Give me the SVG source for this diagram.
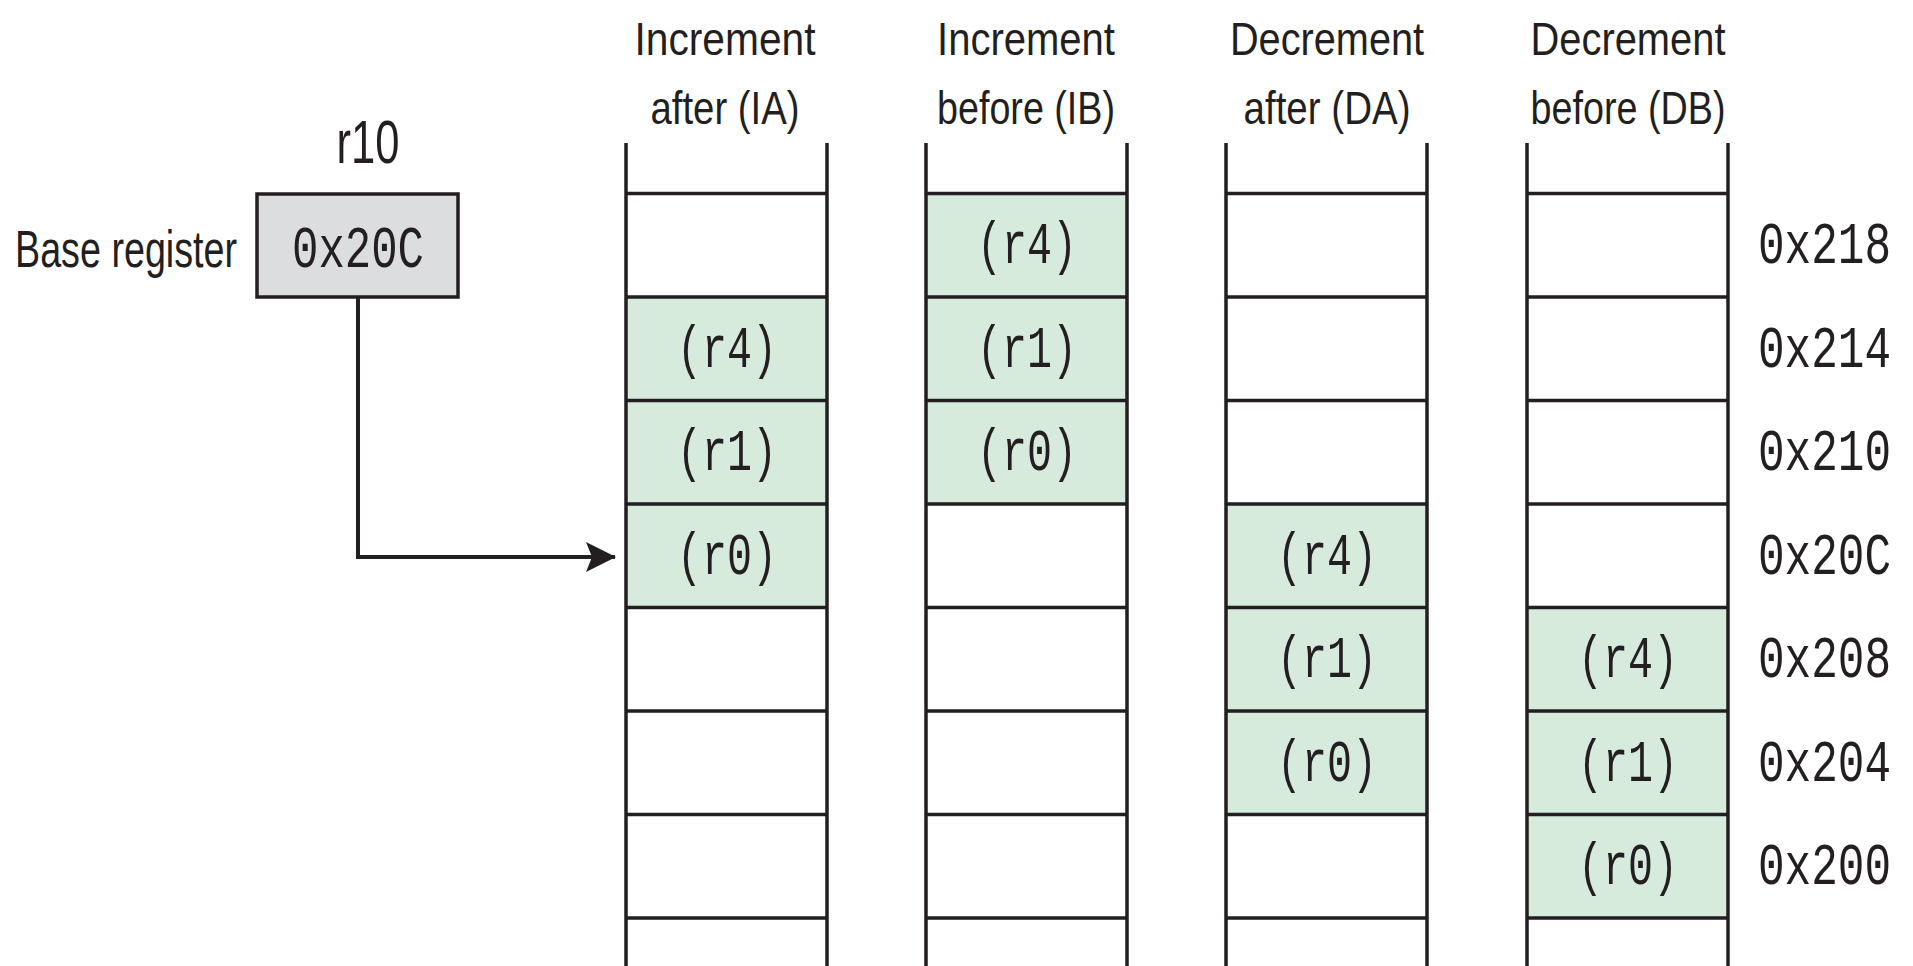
<svg xmlns="http://www.w3.org/2000/svg" width="1913" height="966" viewBox="0 0 1913 966">
<style>
.hd{font-family:"Liberation Sans",Arial,sans-serif;font-size:46px;fill:#231f20;text-anchor:middle}
.mono{font-family:"Liberation Mono","Courier New",monospace;font-size:60px;fill:#231f20;text-anchor:middle}
.addr{font-family:"Liberation Mono","Courier New",monospace;font-size:60px;fill:#231f20}
.cell{fill:#d6ebdc;stroke:none}
.ln{stroke:#231f20;stroke-width:3.5;fill:none}
</style>
<defs>
<marker id="ah" markerUnits="userSpaceOnUse" markerWidth="30" markerHeight="30" refX="29" refY="15" orient="auto">
<path d="M0,0 L30,15 L0,30 L6,15 Z" fill="#231f20"/>
</marker>
</defs>
<rect width="1913" height="966" fill="#ffffff"/>

<g id="base-register">
<text transform="translate(15,267) scale(0.725,1)" style="font-family:'Liberation Sans',Arial,sans-serif;font-size:52px;fill:#231f20">Base register</text>
<text transform="translate(368,163) scale(0.703,1)" style="font-family:'Liberation Sans',Arial,sans-serif;font-size:62px;fill:#231f20;text-anchor:middle">r10</text>
<rect x="257" y="194" width="201" height="103" fill="#dcdddf" stroke="#231f20" stroke-width="3.5"/>
<text class="mono" transform="translate(358,267) scale(0.733,1)">0x20C</text>
</g>

<g id="col-IA">
<text class="hd" transform="translate(725,55) scale(0.885,1)">Increment</text>
<text class="hd" transform="translate(725,124) scale(0.833,1)">after (IA)</text>
<rect class="cell" x="626" y="297" width="201" height="310.5"/>
<path class="ln" d="M626,193.5H827M626,297H827M626,400.5H827M626,504H827M626,607.5H827M626,711H827M626,814.5H827M626,918H827M626,143V966M827,143V966"/>
<text class="mono" transform="translate(727,367) scale(0.694,1)">(r4)</text>
<text class="mono" transform="translate(727,470) scale(0.694,1)">(r1)</text>
<text class="mono" transform="translate(727,574) scale(0.694,1)">(r0)</text>
</g>

<g id="col-IB">
<text class="hd" transform="translate(1026,55) scale(0.870,1)">Increment</text>
<text class="hd" transform="translate(1026,124) scale(0.819,1)">before (IB)</text>
<rect class="cell" x="926" y="193.5" width="201" height="310.5"/>
<path class="ln" d="M926,193.5H1127M926,297H1127M926,400.5H1127M926,504H1127M926,607.5H1127M926,711H1127M926,814.5H1127M926,918H1127M926,143V966M1127,143V966"/>
<text class="mono" transform="translate(1027,263) scale(0.694,1)">(r4)</text>
<text class="mono" transform="translate(1027,367) scale(0.694,1)">(r1)</text>
<text class="mono" transform="translate(1027,470) scale(0.694,1)">(r0)</text>
</g>

<g id="col-DA">
<text class="hd" transform="translate(1327,55) scale(0.863,1)">Decrement</text>
<text class="hd" transform="translate(1327,124) scale(0.838,1)">after (DA)</text>
<rect class="cell" x="1226" y="504" width="201" height="310.5"/>
<path class="ln" d="M1226,193.5H1427M1226,297H1427M1226,400.5H1427M1226,504H1427M1226,607.5H1427M1226,711H1427M1226,814.5H1427M1226,918H1427M1226,143V966M1427,143V966"/>
<text class="mono" transform="translate(1327,574) scale(0.694,1)">(r4)</text>
<text class="mono" transform="translate(1327,677) scale(0.694,1)">(r1)</text>
<text class="mono" transform="translate(1327,781) scale(0.694,1)">(r0)</text>
</g>

<g id="col-DB">
<text class="hd" transform="translate(1628,55) scale(0.867,1)">Decrement</text>
<text class="hd" transform="translate(1628,124) scale(0.820,1)">before (DB)</text>
<rect class="cell" x="1527" y="607.5" width="201" height="310.5"/>
<path class="ln" d="M1527,193.5H1728M1527,297H1728M1527,400.5H1728M1527,504H1728M1527,607.5H1728M1527,711H1728M1527,814.5H1728M1527,918H1728M1527,143V966M1728,143V966"/>
<text class="mono" transform="translate(1628,677) scale(0.694,1)">(r4)</text>
<text class="mono" transform="translate(1628,781) scale(0.694,1)">(r1)</text>
<text class="mono" transform="translate(1628,884) scale(0.694,1)">(r0)</text>
</g>

<g id="addresses">
<text class="addr" transform="translate(1758,263) scale(0.739,1)">0x218</text>
<text class="addr" transform="translate(1758,367) scale(0.739,1)">0x214</text>
<text class="addr" transform="translate(1758,470) scale(0.739,1)">0x210</text>
<text class="addr" transform="translate(1758,574) scale(0.739,1)">0x20C</text>
<text class="addr" transform="translate(1758,677) scale(0.739,1)">0x208</text>
<text class="addr" transform="translate(1758,781) scale(0.739,1)">0x204</text>
<text class="addr" transform="translate(1758,884) scale(0.739,1)">0x200</text>
</g>

<g id="connectors">
<path d="M358,298V557H615" fill="none" stroke="#231f20" stroke-width="4" marker-end="url(#ah)"/>
</g>
</svg>
